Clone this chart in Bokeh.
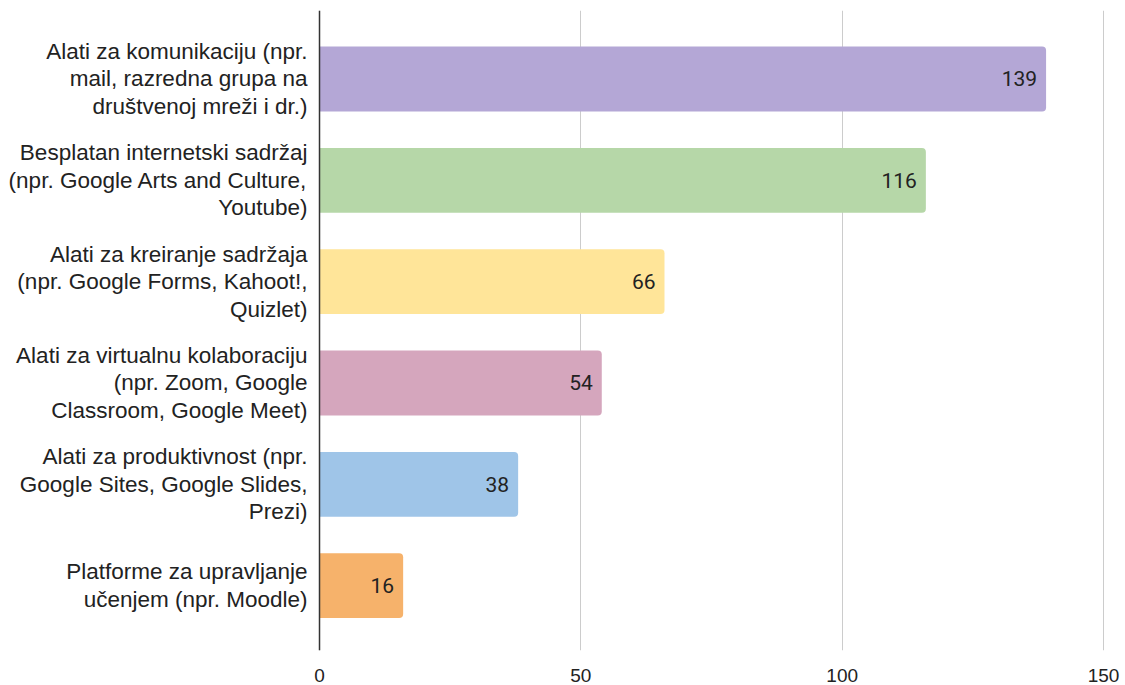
from bokeh.plotting import figure
from bokeh.models import ColumnDataSource, Range1d, FixedTicker, Span
from bokeh.core.properties import value
from bokeh.embed import file_html
from bokeh.resources import INLINE

categories = [
    "Alati za komunikaciju (npr.\nmail, razredna grupa na\ndruštvenoj mreži i dr.)",
    "Besplatan internetski sadržaj\n(npr. Google Arts and Culture,\nYoutube)",
    "Alati za kreiranje sadržaja\n(npr. Google Forms, Kahoot!,\nQuizlet)",
    "Alati za virtualnu kolaboraciju\n(npr. Zoom, Google\nClassroom, Google Meet)",
    "Alati za produktivnost (npr.\nGoogle Sites, Google Slides,\nPrezi)",
    "Platforme za upravljanje\nučenjem (npr. Moodle)",
]
values = [139, 116, 66, 54, 38, 16]
colors = ["#b4a7d6", "#b6d7a8", "#ffe599", "#d5a6bd", "#9fc5e8", "#f6b26b"]
x_ticks = [0, 50, 100, 150]

positions = list(range(len(categories)))
value_text = [str(v) for v in values]

source = ColumnDataSource(dict(y=positions, value=values, color=colors,
                               cat=categories, vtext=value_text,
                               zero=[0] * len(values)))

p = figure(width=1125, height=685, output_backend="svg", toolbar_location=None,
           x_range=Range1d(-61.03, 150.75), y_range=Range1d(5.64, -0.676),
           min_border_left=0, min_border_right=18, min_border_top=10,
           min_border_bottom=35)
p.outline_line_color = None
p.background_fill_color = "white"
p.border_fill_color = "white"

p.hbar(y="y", right="value", left=0, height=0.64, fill_color="color",
       line_color=None, border_radius=(0, 4, 4, 0), source=source)

# axes
p.xaxis.ticker = FixedTicker(ticks=x_ticks)
p.xaxis.axis_line_color = None
p.xaxis.major_tick_line_color = None
p.xaxis.minor_tick_line_color = None
p.xaxis.major_label_standoff = 12
p.xaxis.major_label_text_font = "Liberation Sans"
p.xaxis.major_label_text_font_size = "19px"
p.xaxis.major_label_text_color = "#222222"
p.yaxis.visible = False

p.xgrid.ticker = FixedTicker(ticks=x_ticks)
p.xgrid.grid_line_color = "#cccccc"
p.ygrid.grid_line_color = None

p.add_layout(Span(location=0, dimension="height", line_color="#333333",
                  line_width=1.5))

p.text(x="zero", y="y", text="cat", source=source,
       x_offset=-12, text_align="right", text_baseline="middle",
       text_font=value("Liberation Sans"), text_font_size="22.5px",
       text_line_height=1.1, text_color="#222222")

p.text(x="value", y="y", text="vtext", source=source,
       x_offset=-9, text_align="right", text_baseline="middle",
       text_font=value("Roboto"), text_font_size="21px",
       text_color="#222222")

open("out.html", "w").write(file_html(p, INLINE))
